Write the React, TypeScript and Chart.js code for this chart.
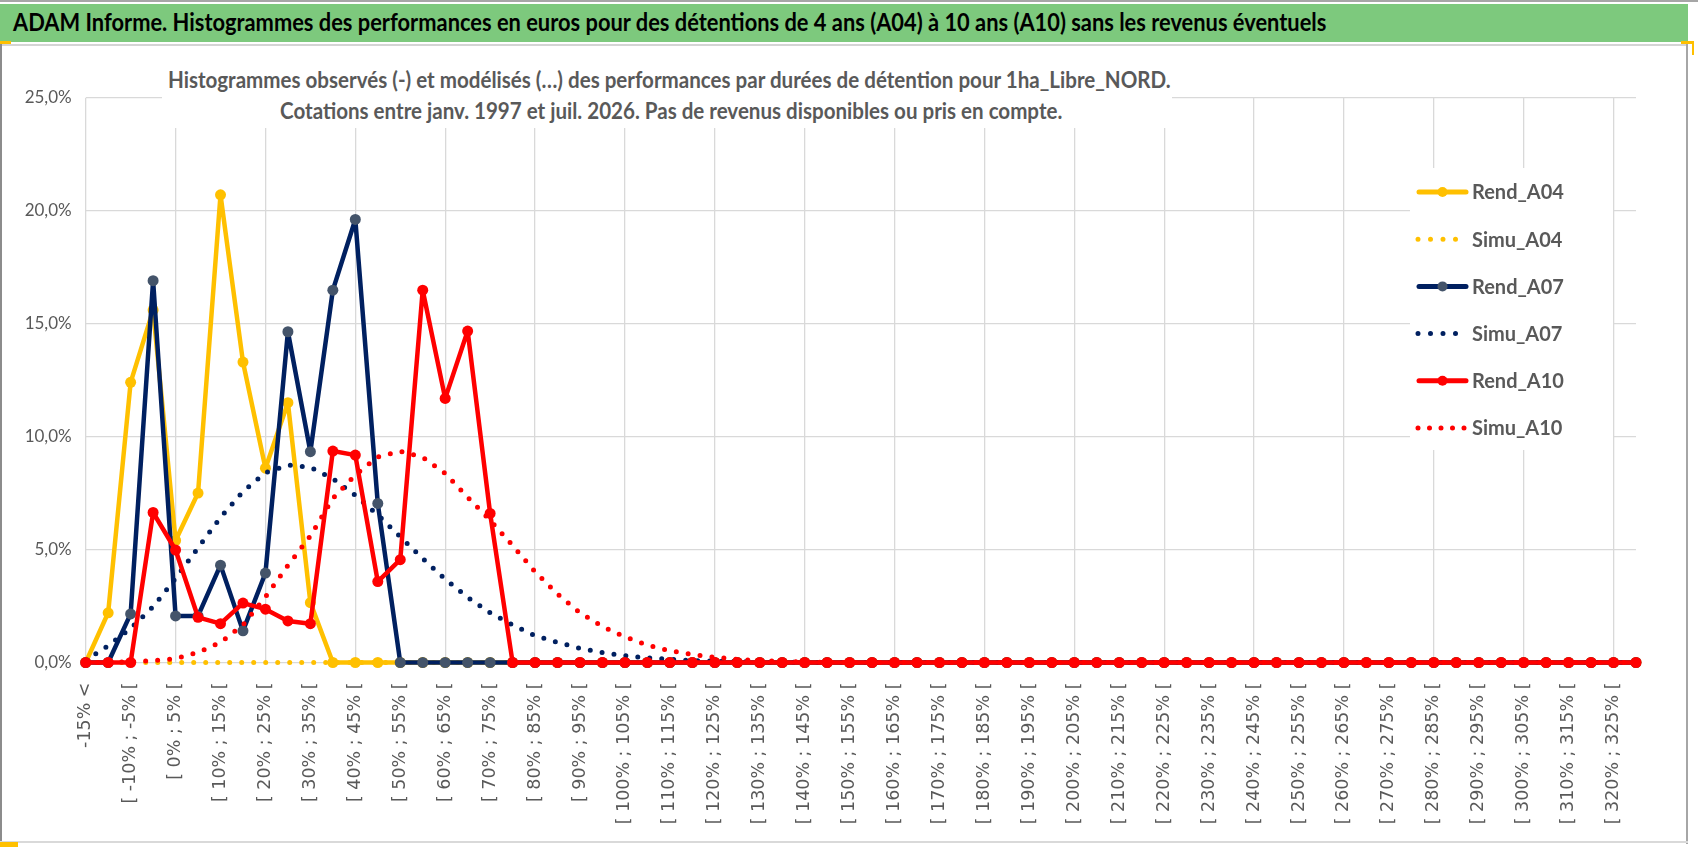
import React, { useEffect, useLayoutEffect, useRef } from "react";
import { Chart, registerables } from "chart.js";

Chart.register(...registerables);

// ---------- Data ----------
const categories: string[] = [
  "-15% <", "[ -15% ; -10% [", "[ -10% ; -5% [", "[ -5% ; 0% [", "[ 0% ; 5% [",
  "[ 5% ; 10% [", "[ 10% ; 15% [", "[ 15% ; 20% [", "[ 20% ; 25% [", "[ 25% ; 30% [",
  "[ 30% ; 35% [", "[ 35% ; 40% [", "[ 40% ; 45% [", "[ 45% ; 50% [", "[ 50% ; 55% [",
  "[ 55% ; 60% [", "[ 60% ; 65% [", "[ 65% ; 70% [", "[ 70% ; 75% [", "[ 75% ; 80% [",
  "[ 80% ; 85% [", "[ 85% ; 90% [", "[ 90% ; 95% [", "[ 95% ; 100% [", "[ 100% ; 105% [",
  "[ 105% ; 110% [", "[ 110% ; 115% [", "[ 115% ; 120% [", "[ 120% ; 125% [", "[ 125% ; 130% [",
  "[ 130% ; 135% [", "[ 135% ; 140% [", "[ 140% ; 145% [", "[ 145% ; 150% [", "[ 150% ; 155% [",
  "[ 155% ; 160% [", "[ 160% ; 165% [", "[ 165% ; 170% [", "[ 170% ; 175% [", "[ 175% ; 180% [",
  "[ 180% ; 185% [", "[ 185% ; 190% [", "[ 190% ; 195% [", "[ 195% ; 200% [", "[ 200% ; 205% [",
  "[ 205% ; 210% [", "[ 210% ; 215% [", "[ 215% ; 220% [", "[ 220% ; 225% [", "[ 225% ; 230% [",
  "[ 230% ; 235% [", "[ 235% ; 240% [", "[ 240% ; 245% [", "[ 245% ; 250% [", "[ 250% ; 255% [",
  "[ 255% ; 260% [", "[ 260% ; 265% [", "[ 265% ; 270% [", "[ 270% ; 275% [", "[ 275% ; 280% [",
  "[ 280% ; 285% [", "[ 285% ; 290% [", "[ 290% ; 295% [", "[ 295% ; 300% [", "[ 300% ; 305% [",
  "[ 305% ; 310% [", "[ 310% ; 315% [", "[ 315% ; 320% [", "[ 320% ; 325% [", "325% >",
];

const rendA04: number[] = [
  0, 2.2, 12.4, 15.6, 5.4, 7.5, 20.7, 13.3, 8.6, 11.5,
  2.65, 0, 0, 0, 0, 0, 0, 0, 0, 0,
  0, 0, 0, 0, 0, 0, 0, 0, 0, 0,
  0, 0, 0, 0, 0, 0, 0, 0, 0, 0,
  0, 0, 0, 0, 0, 0, 0, 0, 0, 0,
  0, 0, 0, 0, 0, 0, 0, 0, 0, 0,
  0, 0, 0, 0, 0, 0, 0, 0, 0, 0,
];

const simuA04: number[] = [
  0, 0, 0, 0, 0, 0, 0, 0, 0, 0,
  0, 0, 0, 0, 0, 0, 0, 0, 0, 0,
  0, 0, 0, 0, 0, 0, 0, 0, 0, 0,
  0, 0, 0, 0, 0, 0, 0, 0, 0, 0,
  0, 0, 0, 0, 0, 0, 0, 0, 0, 0,
  0, 0, 0, 0, 0, 0, 0, 0, 0, 0,
  0, 0, 0, 0, 0, 0, 0, 0, 0, 0,
];

const rendA07: number[] = [
  0, 0, 2.15, 16.9, 2.06, 2.06, 4.31, 1.4, 3.96, 14.64,
  9.33, 16.48, 19.61, 7.04, 0, 0, 0, 0, 0, 0,
  0, 0, 0, 0, 0, 0, 0, 0, 0, 0,
  0, 0, 0, 0, 0, 0, 0, 0, 0, 0,
  0, 0, 0, 0, 0, 0, 0, 0, 0, 0,
  0, 0, 0, 0, 0, 0, 0, 0, 0, 0,
  0, 0, 0, 0, 0, 0, 0, 0, 0, 0,
];

const simuA07: number[] = [
  0.1, 0.74, 1.51, 2.47, 3.72, 5.08, 6.42, 7.57, 8.4, 8.74,
  8.64, 8.14, 7.4, 6.53, 5.57, 4.6, 3.69, 2.88, 2.2, 1.66,
  1.19, 0.89, 0.63, 0.44, 0.3, 0.21, 0.14, 0.09, 0.06, 0.04,
  0.02, 0.01, 0.01, 0, 0, 0, 0, 0, 0, 0,
  0, 0, 0, 0, 0, 0, 0, 0, 0, 0,
  0, 0, 0, 0, 0, 0, 0, 0, 0, 0,
  0, 0, 0, 0, 0, 0, 0, 0, 0, 0,
];

const rendA10: number[] = [
  0, 0, 0, 6.64, 4.98, 2.0, 1.72, 2.63, 2.36, 1.84,
  1.72, 9.36, 9.18, 3.58, 4.55, 16.48, 11.69, 14.67, 6.6, 0,
  0, 0, 0, 0, 0, 0, 0, 0, 0, 0,
  0, 0, 0, 0, 0, 0, 0, 0, 0, 0,
  0, 0, 0, 0, 0, 0, 0, 0, 0, 0,
  0, 0, 0, 0, 0, 0, 0, 0, 0, 0,
  0, 0, 0, 0, 0, 0, 0, 0, 0, 0,
];

const simuA10: number[] = [
  0, 0.01, 0.03, 0.08, 0.17, 0.45, 0.89, 1.66, 2.9, 4.3,
  5.6, 7.26, 8.3, 9.1, 9.35, 9.08, 8.37, 7.31, 6.3, 5.18,
  4.02, 3.03, 2.2, 1.59, 1.14, 0.77, 0.52, 0.35, 0.23, 0.14,
  0.08, 0.05, 0.03, 0.01, 0, 0, 0, 0, 0, 0,
  0, 0, 0, 0, 0, 0, 0, 0, 0, 0,
  0, 0, 0, 0, 0, 0, 0, 0, 0, 0,
  0, 0, 0, 0, 0, 0, 0, 0, 0, 0,
];

const seriesNames: string[] = ["Rend_A04", "Simu_A04", "Rend_A07", "Simu_A07", "Rend_A10", "Simu_A10"];

const titleText =
  "ADAM Informe. Histogrammes des performances en euros pour des détentions de 4 ans (A04) à 10 ans (A10) sans les revenus éventuels";
const subtitleLines: string[] = [
  "Histogrammes observés (-) et modélisés (…) des performances par durées de détention pour 1ha_Libre_NORD.",
  "Cotations entre janv. 1997 et juil. 2026. Pas de revenus disponibles ou pris en compte.",
];

// ---------- Styles ----------
const YELLOW = "#FFC000";
const NAVY = "#002060";
const RED = "#FF0000";
const SLATE = "#44546A";
const TEXT_GREY = "#595959";
const GRID = "#D9D9D9";

const seriesColors = [YELLOW, YELLOW, NAVY, NAVY, RED, RED];
const markerColors = [YELLOW, YELLOW, SLATE, NAVY, RED, RED];
const seriesDotted = [false, true, false, true, false, true];
const seriesValues = [rendA04, simuA04, rendA07, simuA07, rendA10, simuA10];

const legendPlugin = {
  id: "excelLegend",
  afterDatasetsDraw(chart: any) {
    const ctx: CanvasRenderingContext2D = chart.ctx;
    ctx.save();
    ctx.fillStyle = "#ffffff";
    ctx.fillRect(1410, 168, 203, 282);
    seriesNames.forEach((name, k) => {
      const y = 192 + k * 47.2;
      const color = seriesColors[k];
      ctx.strokeStyle = color;
      if (seriesDotted[k]) {
        ctx.lineWidth = 5;
        ctx.lineCap = "round";
        const pitch = k === 5 ? 11.5 : 12.5;
        const n = k === 5 ? 5 : 4;
        ctx.setLineDash([0, pitch]);
        ctx.beginPath();
        ctx.moveTo(1418, y);
        ctx.lineTo(1418 + pitch * (n - 1) + 1, y);
        ctx.stroke();
        ctx.setLineDash([]);
      } else {
        ctx.lineWidth = 5;
        ctx.lineCap = "round";
        ctx.setLineDash([]);
        ctx.beginPath();
        ctx.moveTo(1419, y);
        ctx.lineTo(1466, y);
        ctx.stroke();
        ctx.fillStyle = markerColors[k];
        ctx.beginPath();
        ctx.arc(1442.5, y, 5, 0, Math.PI * 2);
        ctx.fill();
      }
      ctx.fillStyle = TEXT_GREY;
      ctx.font = "bold 20px Lato, 'Open Sans', sans-serif";
      ctx.textAlign = "left";
      ctx.textBaseline = "middle";
      ctx.fillText(name, 1472, y + 1);
    });
    ctx.restore();
  },
};

function FitText(props: {
  text: string;
  left: number;
  top: number;
  width: number;
  font: string;
  color: string;
  lh: number;
}) {
  const ref = useRef<HTMLSpanElement>(null);
  useLayoutEffect(() => {
    const el = ref.current;
    if (!el) return;
    const apply = () => {
      const w = el.offsetWidth;
      if (w > 0) el.style.transform = `scaleX(${props.width / w})`;
    };
    apply();
    const fonts: any = (document as any).fonts;
    if (fonts && fonts.ready) fonts.ready.then(apply);
  }, [props.text, props.width]);
  return (
    <span
      ref={ref}
      style={{
        position: "absolute",
        left: props.left,
        top: props.top,
        whiteSpace: "nowrap",
        font: props.font,
        color: props.color,
        lineHeight: props.lh + "px",
        transformOrigin: "0 50%",
        display: "inline-block",
      }}
    >
      {props.text}
    </span>
  );
}

export default function App() {
  const canvasRef = useRef<HTMLCanvasElement>(null);

  useEffect(() => {
    document.body.style.margin = "0";
    const canvas = canvasRef.current;
    if (!canvas) return;
    const datasets = seriesNames.map((name, k) => {
      const dotted = seriesDotted[k];
      return {
        label: name,
        data: seriesValues[k],
        borderColor: seriesColors[k],
        backgroundColor: seriesColors[k],
        borderWidth: dotted ? 5 : 4.5,
        borderDash: dotted ? [0, 12] : [],
        borderCapStyle: "round" as const,
        borderJoinStyle: "round" as const,
        pointRadius: dotted ? 0 : 5.5,
        pointHoverRadius: dotted ? 0 : 5.5,
        pointBorderWidth: 0,
        pointBackgroundColor: markerColors[k],
        pointBorderColor: markerColors[k],
        tension: 0,
        fill: false,
        clip: false as any,
        order: seriesNames.length - 1 - k,
      };
    });

    const chart = new Chart(canvas, {
      type: "line",
      data: { labels: categories, datasets },
      options: {
        responsive: false,
        animation: false,
        events: [],
        layout: { padding: { top: 97.7, right: 62, bottom: 21.5, left: 0 } },
        plugins: {
          legend: { display: false },
          title: { display: false },
          tooltip: { enabled: false },
        },
        scales: {
          x: {
            type: "category",
            offset: false,
            border: { display: false },
            grid: {
              drawTicks: false,
              color: (c: any) => (c.index % 4 === 0 ? GRID : "rgba(0,0,0,0)"),
              lineWidth: 1.3,
            },
            ticks: {
              autoSkip: false,
              maxRotation: 90,
              minRotation: 90,
              padding: 20,
              color: TEXT_GREY,
              font: { family: "'DejaVu Sans', sans-serif", size: 17.5 },
              callback: (_v: any, i: number) => (i % 2 === 0 ? categories[i] : ""),
            },
            afterFit: (scale: any) => {
              scale.height = 170;
            },
          },
          y: {
            min: 0,
            max: 25,
            border: { display: false },
            grid: { color: GRID, lineWidth: 1.3, drawTicks: false },
            ticks: {
              stepSize: 5,
              padding: 14,
              color: TEXT_GREY,
              font: { family: "'Liberation Sans Narrow', Lato, sans-serif", size: 17 },
              callback: (v: any) => Number(v).toFixed(1).replace(".", ",") + "%",
            },
            afterFit: (scale: any) => {
              scale.width = 85.7;
            },
          },
        },
      },
      plugins: [legendPlugin],
    });
    return () => chart.destroy();
  }, []);

  return (
    <div
      style={{
        position: "relative",
        width: 1698,
        height: 854,
        background: "#ffffff",
        overflow: "hidden",
        fontFamily: "Lato, sans-serif",
      }}
    >
      <canvas
        ref={canvasRef}
        width={1698}
        height={854}
        style={{ position: "absolute", left: 0, top: 0, width: 1698, height: 854 }}
      />
      {/* frame */}
      <div style={{ position: "absolute", left: 0, top: 0, width: 1698, height: 2, background: "#A6A6A6" }} />
      <div style={{ position: "absolute", left: 0, top: 4, width: 1688, height: 38, background: "#7DC97D" }} />
      <div style={{ position: "absolute", left: 0, top: 44, width: 1688, height: 2, background: "#D4D4D4" }} />
      <div style={{ position: "absolute", left: 0, top: 44, width: 2, height: 800, background: "#8C8C8C" }} />
      <div style={{ position: "absolute", left: 1686, top: 44, width: 2, height: 800, background: "#A6A6A6" }} />
      <div style={{ position: "absolute", left: 0, top: 841, width: 1688, height: 2, background: "#D9D9D9" }} />
      <div style={{ position: "absolute", left: 0, top: 41, width: 11, height: 3, background: YELLOW }} />
      <div style={{ position: "absolute", left: 1681, top: 41, width: 13, height: 3, background: YELLOW }} />
      <div style={{ position: "absolute", left: 1692, top: 41, width: 2, height: 14, background: YELLOW }} />
      <div style={{ position: "absolute", left: 0, top: 842, width: 18, height: 5, background: YELLOW }} />

      <FitText
        text={titleText}
        left={13}
        top={8}
        width={1313}
        font="bold 24px Lato, sans-serif"
        color="#000000"
        lh={28}
      />

      {/* chart subtitle box overlaying plot area */}
      <div style={{ position: "absolute", left: 162, top: 50, width: 1010, height: 78, background: "#ffffff" }} />
      <FitText
        text={subtitleLines[0]}
        left={168}
        top={67}
        width={1003}
        font="bold 22px Lato, sans-serif"
        color={TEXT_GREY}
        lh={26}
      />
      <FitText
        text={subtitleLines[1]}
        left={280}
        top={98}
        width={782}
        font="bold 22px Lato, sans-serif"
        color={TEXT_GREY}
        lh={26}
      />
    </div>
  );
}
